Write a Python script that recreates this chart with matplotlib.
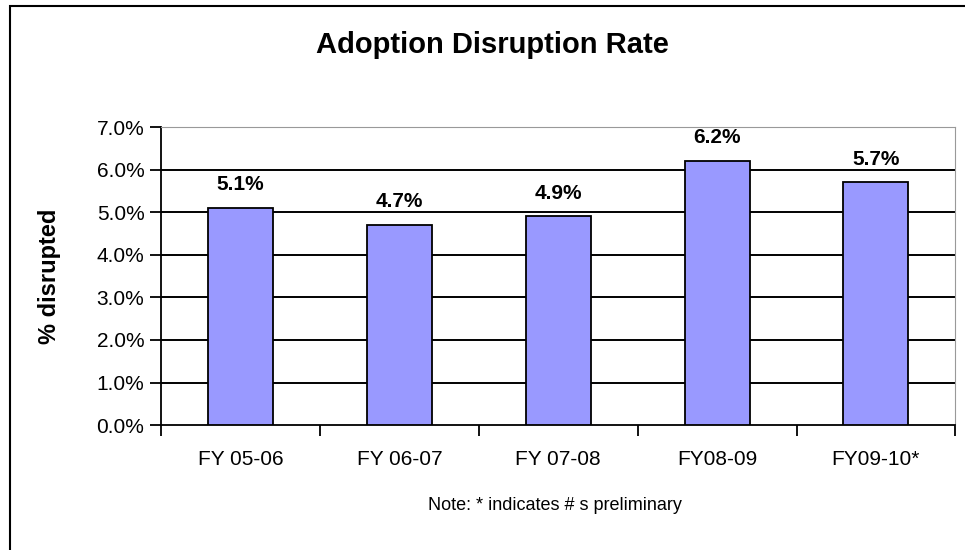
import matplotlib
matplotlib.use("Agg")
import matplotlib.pyplot as plt
from matplotlib.patches import Rectangle
from matplotlib.ticker import FuncFormatter

years = ["FY 05-06", "FY 06-07", "FY 07-08", "FY08-09", "FY09-10*"]
rates = [5.1, 4.7, 4.9, 6.2, 5.7]
yticks = [0, 1, 2, 3, 4, 5, 6, 7]

plt.rcParams['font.family'] = ['Liberation Sans', 'DejaVu Sans']

fig = plt.figure(figsize=(9.65, 5.5), dpi=100)
ax = fig.add_axes([0.167, 0.227, 0.823, 0.542])

x = list(range(len(years)))
ax.bar(x, rates, width=0.41, color='#9999ff', edgecolor='black', linewidth=1.3, zorder=3)

for xi, r in zip(x, rates):
    ax.annotate("%.1f%%" % r, (xi, r), xytext=(0, 10), textcoords='offset points',
                ha='center', va='bottom', fontsize=15, fontweight='bold')

ax.set_ylim(0, 7)
ax.set_xlim(-0.5, len(years) - 0.5)
ax.set_yticks(yticks)
ax.yaxis.set_major_formatter(FuncFormatter(lambda v, p: "%.1f%%" % v))
for y in yticks[1:-1]:
    ax.axhline(y, color='black', linewidth=1.4, zorder=1)

# category boundaries carry the ticks, names sit in between
ax.set_xticks([i - 0.5 for i in range(len(years) + 1)])
ax.set_xticklabels([])
ax.set_xticks(x, minor=True)
ax.set_xticklabels(years, minor=True)
ax.tick_params(axis='x', which='major', direction='out', length=8, width=1.3)
ax.tick_params(axis='x', which='minor', length=0, pad=18, labelsize=15)
ax.tick_params(axis='y', direction='out', length=8, width=1.3, labelsize=15, pad=4)

ax.spines['left'].set_linewidth(1.3)
ax.spines['bottom'].set_linewidth(1.3)
ax.spines['top'].set_color('#999999')
ax.spines['right'].set_color('#999999')

fig.text(0.051, 0.497, "% disrupted", rotation=90, ha='center', va='center',
         fontsize=17, fontweight='bold')
fig.text(0.51, 0.918, "Adoption Disruption Rate", ha='center', va='center',
         fontsize=21, fontweight='bold')
fig.text(0.575, 0.08, "Note: * indicates # s preliminary", ha='center', va='center',
         fontsize=13)

fig.patches.append(Rectangle((0.01, -0.1), 1.2, 1.09, transform=fig.transFigure,
                             fill=False, edgecolor='black', linewidth=1.5))

fig.savefig("out.png", dpi=100)
